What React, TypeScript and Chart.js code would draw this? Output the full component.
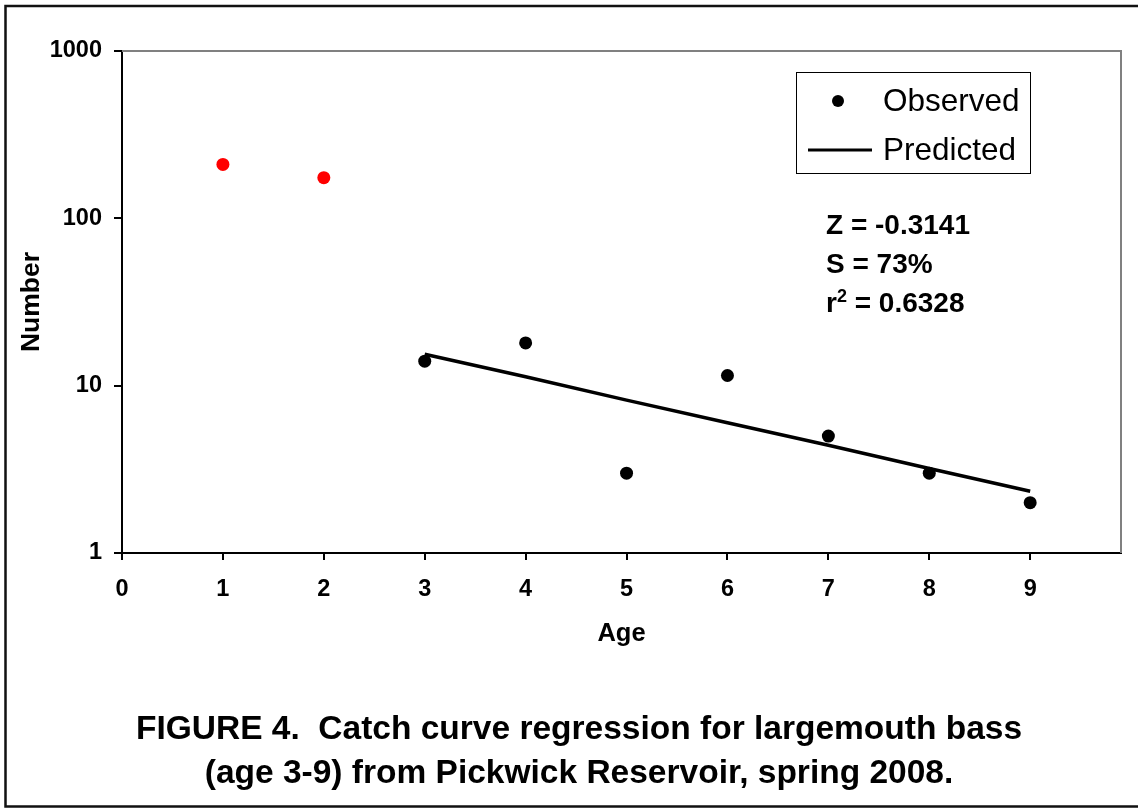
import React, { useEffect, useRef } from "react";
import { Chart, registerables } from "chart.js";

Chart.register(...registerables);

// ---- data ----
const ages = [1, 2, 3, 4, 5, 6, 7, 8, 9];
const observed = [210, 175, 14, 18, 3, 11.5, 5, 3, 2];
const excludedAges = [1, 2];
const predictedAges = [3, 4, 5, 6, 7, 8, 9];
const predicted = [15.4, 11.3, 8.2, 6.0, 4.4, 3.2, 2.34];
const xTickValues = [0, 1, 2, 3, 4, 5, 6, 7, 8, 9];
const yTickValues = [1, 10, 100, 1000];
const seriesLabels = ["Observed", "Predicted"];
const xTitle = "Age";
const yTitle = "Number";
const statZ = "Z = -0.3141";
const statS = "S = 73%";
const statR2 = "0.6328";
const captionLines = [
  "FIGURE 4.  Catch curve regression for largemouth bass",
  "(age 3-9) from Pickwick Reservoir, spring 2008.",
];

const FONT = '"Liberation Sans", Arial, Helvetica, sans-serif';

const framePlugin = {
  id: "framePlugin",
  afterDraw(chart: any) {
    const { ctx, chartArea } = chart;
    ctx.save();
    // gray top/right plot-area border
    ctx.strokeStyle = "#808080";
    ctx.lineWidth = 2;
    ctx.beginPath();
    ctx.moveTo(chartArea.left, chartArea.top);
    ctx.lineTo(chartArea.right, chartArea.top);
    ctx.lineTo(chartArea.right, chartArea.bottom);
    ctx.stroke();
    // outer figure border
    ctx.strokeStyle = "#111";
    ctx.lineWidth = 2.5;
    ctx.beginPath();
    ctx.moveTo(1150, 6);
    ctx.lineTo(5.5, 6);
    ctx.lineTo(5.5, 806.5);
    ctx.lineTo(1150, 806.5);
    ctx.stroke();
    // legend
    const ds = chart.data.datasets;
    ctx.lineWidth = 1;
    ctx.strokeStyle = "#000";
    ctx.strokeRect(796.5, 72.5, 234, 101);
    ctx.fillStyle = "#000";
    ctx.font = "31.5px " + FONT;
    ctx.textBaseline = "middle";
    ctx.textAlign = "left";
    ctx.beginPath();
    ctx.arc(838, 101, 6, 0, Math.PI * 2);
    ctx.fill();
    ctx.fillText(ds[0].label, 883, 102);
    ctx.lineWidth = 3;
    ctx.beginPath();
    ctx.moveTo(808, 150);
    ctx.lineTo(872, 150);
    ctx.stroke();
    ctx.fillText(ds[1].label, 883, 151);
    ctx.restore();
  },
};

export default function App() {
  const canvasRef = useRef<HTMLCanvasElement | null>(null);

  useEffect(() => {
    const canvas = canvasRef.current;
    if (!canvas) return;
    const chart = new Chart(canvas, {
      type: "scatter",
      data: {
        datasets: [
          {
            label: seriesLabels[0],
            data: ages.map((a, i) => ({ x: a, y: observed[i] })),
            showLine: false,
            pointRadius: 6.5,
            pointHoverRadius: 6.5,
            pointBorderWidth: 0,
            pointBackgroundColor: (c: any) =>
              c.raw && excludedAges.includes(c.raw.x) ? "#ff0000" : "#000000",
            pointBorderColor: (c: any) =>
              c.raw && excludedAges.includes(c.raw.x) ? "#ff0000" : "#000000",
            order: 1,
          },
          {
            label: seriesLabels[1],
            data: predictedAges.map((a, i) => ({ x: a, y: predicted[i] })),
            showLine: true,
            borderColor: "#000000",
            borderWidth: 3.5,
            pointRadius: 0,
            pointHoverRadius: 0,
            tension: 0,
            order: 2,
          },
        ],
      },
      options: {
        responsive: false,
        animation: false,
        events: [],
        layout: { padding: { left: 0, top: 51, right: 17, bottom: 146 } },
        plugins: {
          legend: { display: false },
          tooltip: { enabled: false },
          title: { display: false },
        },
        scales: {
          x: {
            type: "linear",
            min: 0,
            max: 9.9,
            afterBuildTicks: (s: any) => {
              s.ticks = xTickValues.map((v) => ({ value: v }));
            },
            afterFit: (s: any) => {
              s.height = 110;
            },
            ticks: {
              color: "#000",
              font: { family: FONT, size: 23.5, weight: "bold" },
              padding: 15,
              maxRotation: 0,
              autoSkip: false,
              callback: (v: any) => String(v),
            },
            grid: {
              display: true,
              drawOnChartArea: false,
              drawTicks: true,
              tickLength: 7,
              color: "#000",
              lineWidth: 2,
            },
            border: { display: true, color: "#000", width: 2 },
            title: {
              display: true,
              text: xTitle,
              color: "#000",
              font: { family: FONT, size: 25.5, weight: "bold" },
              padding: { top: 0, bottom: 14 },
            },
          },
          y: {
            type: "logarithmic",
            min: 1,
            max: 1000,
            afterBuildTicks: (s: any) => {
              s.ticks = yTickValues.map((v) => ({ value: v }));
            },
            afterFit: (s: any) => {
              s.width = 122;
            },
            ticks: {
              color: "#000",
              font: { family: FONT, size: 23.5, weight: "bold" },
              padding: 12,
              autoSkip: false,
              callback: (v: any) => String(v),
            },
            grid: {
              display: true,
              drawOnChartArea: false,
              drawTicks: true,
              tickLength: 8,
              color: "#000",
              lineWidth: 2,
            },
            border: { display: true, color: "#000", width: 2 },
            title: {
              display: true,
              text: yTitle,
              color: "#000",
              font: { family: FONT, size: 26.5, weight: "bold" },
              padding: { top: 16, bottom: 0 },
            },
          },
        },
      },
      plugins: [framePlugin],
    } as any);
    return () => chart.destroy();
  }, []);

  return (
    <div
      style={{
        position: "absolute",
        left: 0,
        top: 0,
        width: 1138,
        height: 809,
        overflow: "hidden",
        background: "#fff",
      }}
    >
      <canvas
        ref={canvasRef}
        width={1138}
        height={809}
        style={{ position: "absolute", left: 0, top: 0, width: 1138, height: 809 }}
      />
      <div
        style={{
          position: "absolute",
          left: 826,
          top: 205,
          fontFamily: FONT,
          fontWeight: "bold",
          fontSize: 28,
          lineHeight: "39px",
          color: "#000",
          whiteSpace: "nowrap",
        }}
      >
        <div>{statZ}</div>
        <div>{statS}</div>
        <div>
          r<sup style={{ fontSize: 18, lineHeight: 0, verticalAlign: "super" }}>2</sup> = {statR2}
        </div>
      </div>
      <div
        style={{
          position: "absolute",
          left: 0,
          top: 706,
          width: 1158,
          textAlign: "center",
          fontFamily: FONT,
          fontWeight: "bold",
          fontSize: 33.5,
          lineHeight: "44px",
          color: "#000",
          whiteSpace: "pre",
        }}
      >
        {captionLines.map((l, i) => (
          <div key={i}>{l}</div>
        ))}
      </div>
    </div>
  );
}
